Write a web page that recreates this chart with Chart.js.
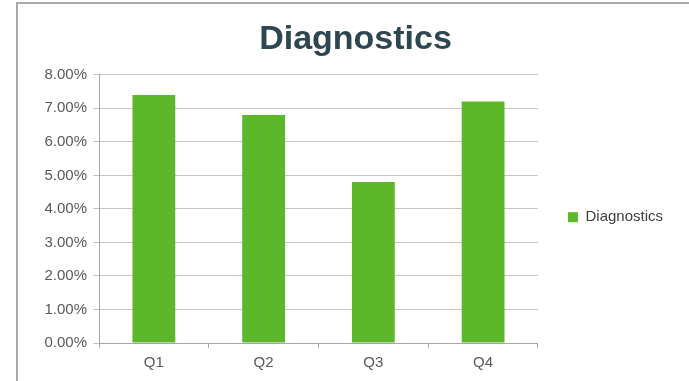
<!DOCTYPE html>
<html>
<head>
<meta charset="utf-8">
<script src="https://cdn.jsdelivr.net/npm/chart.js@4/dist/chart.umd.min.js"></script>
<style>
  html, body { margin: 0; padding: 0; background: #fff; }
  #wrap { width: 689px; height: 381px; position: relative; }
</style>
</head>
<body>
<div id="wrap"><canvas id="chart" width="689" height="381"></canvas></div>
<script>
// ------------------- DATA -------------------
const quarters = ["Q1", "Q2", "Q3", "Q4"];
const diagnostics = [7.4, 6.8, 4.8, 7.2]; // percent
const yTicks = [0, 1, 2, 3, 4, 5, 6, 7, 8];

// outer frame like the Excel chart border (top + left visible)
const framePlugin = {
  id: "frame",
  beforeDraw(chart) {
    const c = chart.ctx;
    c.save();
    c.fillStyle = "#fff";
    c.fillRect(0, 0, chart.width, chart.height);
    c.strokeStyle = "#a9a9a9";
    c.lineWidth = 2;
    c.beginPath();
    c.moveTo(17, chart.height);
    c.lineTo(17, 3);
    c.lineTo(chart.width, 3);
    c.stroke();
    c.restore();
  }
};

const ctx = document.getElementById("chart").getContext("2d");
new Chart(ctx, {
  type: "bar",
  data: {
    labels: quarters,
    datasets: [{
      label: "Diagnostics",
      data: diagnostics,
      backgroundColor: "#5cb82a",
      borderWidth: 0,
      barPercentage: 0.39,
      categoryPercentage: 1
    }]
  },
  options: {
    responsive: false,
    animation: false,
    layout: { padding: { left: 38, right: 16, top: 0, bottom: 3 } },
    scales: {
      x: {
        grid: { drawOnChartArea: false, drawTicks: true, tickLength: 5, color: "#a6a6a6" },
        border: { color: "#a6a6a6" },
        ticks: { color: "#595959", font: { family: "Liberation Sans, Arial", size: 15 }, padding: 6 }
      },
      y: {
        min: 0,
        max: 8,
        afterFit: s => { s.width = 61; },
        afterBuildTicks: s => { s.ticks = yTicks.map(v => ({ value: v })); },
        grid: { color: "#c4c4c4", tickLength: 6 },
        border: { color: "#a6a6a6" },
        ticks: {
          color: "#595959",
          font: { family: "Liberation Sans, Arial", size: 15 },
          padding: 6,
          callback: v => v.toFixed(2) + "%"
        }
      }
    },
    plugins: {
      title: {
        display: true,
        text: "Diagnostics",
        color: "#2d4650",
        font: { family: "Liberation Sans, Arial", size: 34, weight: "bold" },
        padding: { top: 19, bottom: 15 }
      },
      legend: {
        position: "right",
        title: { display: true, text: " ", font: { size: 12 }, padding: { top: 42, bottom: 0 } },
        labels: {
          boxWidth: 10,
          boxHeight: 10,
          padding: 30,
          color: "#404040",
          font: { family: "Liberation Sans, Arial", size: 15 }
        }
      },
      tooltip: { enabled: false }
    }
  },
  plugins: [framePlugin]
});
</script>
</body>
</html>
